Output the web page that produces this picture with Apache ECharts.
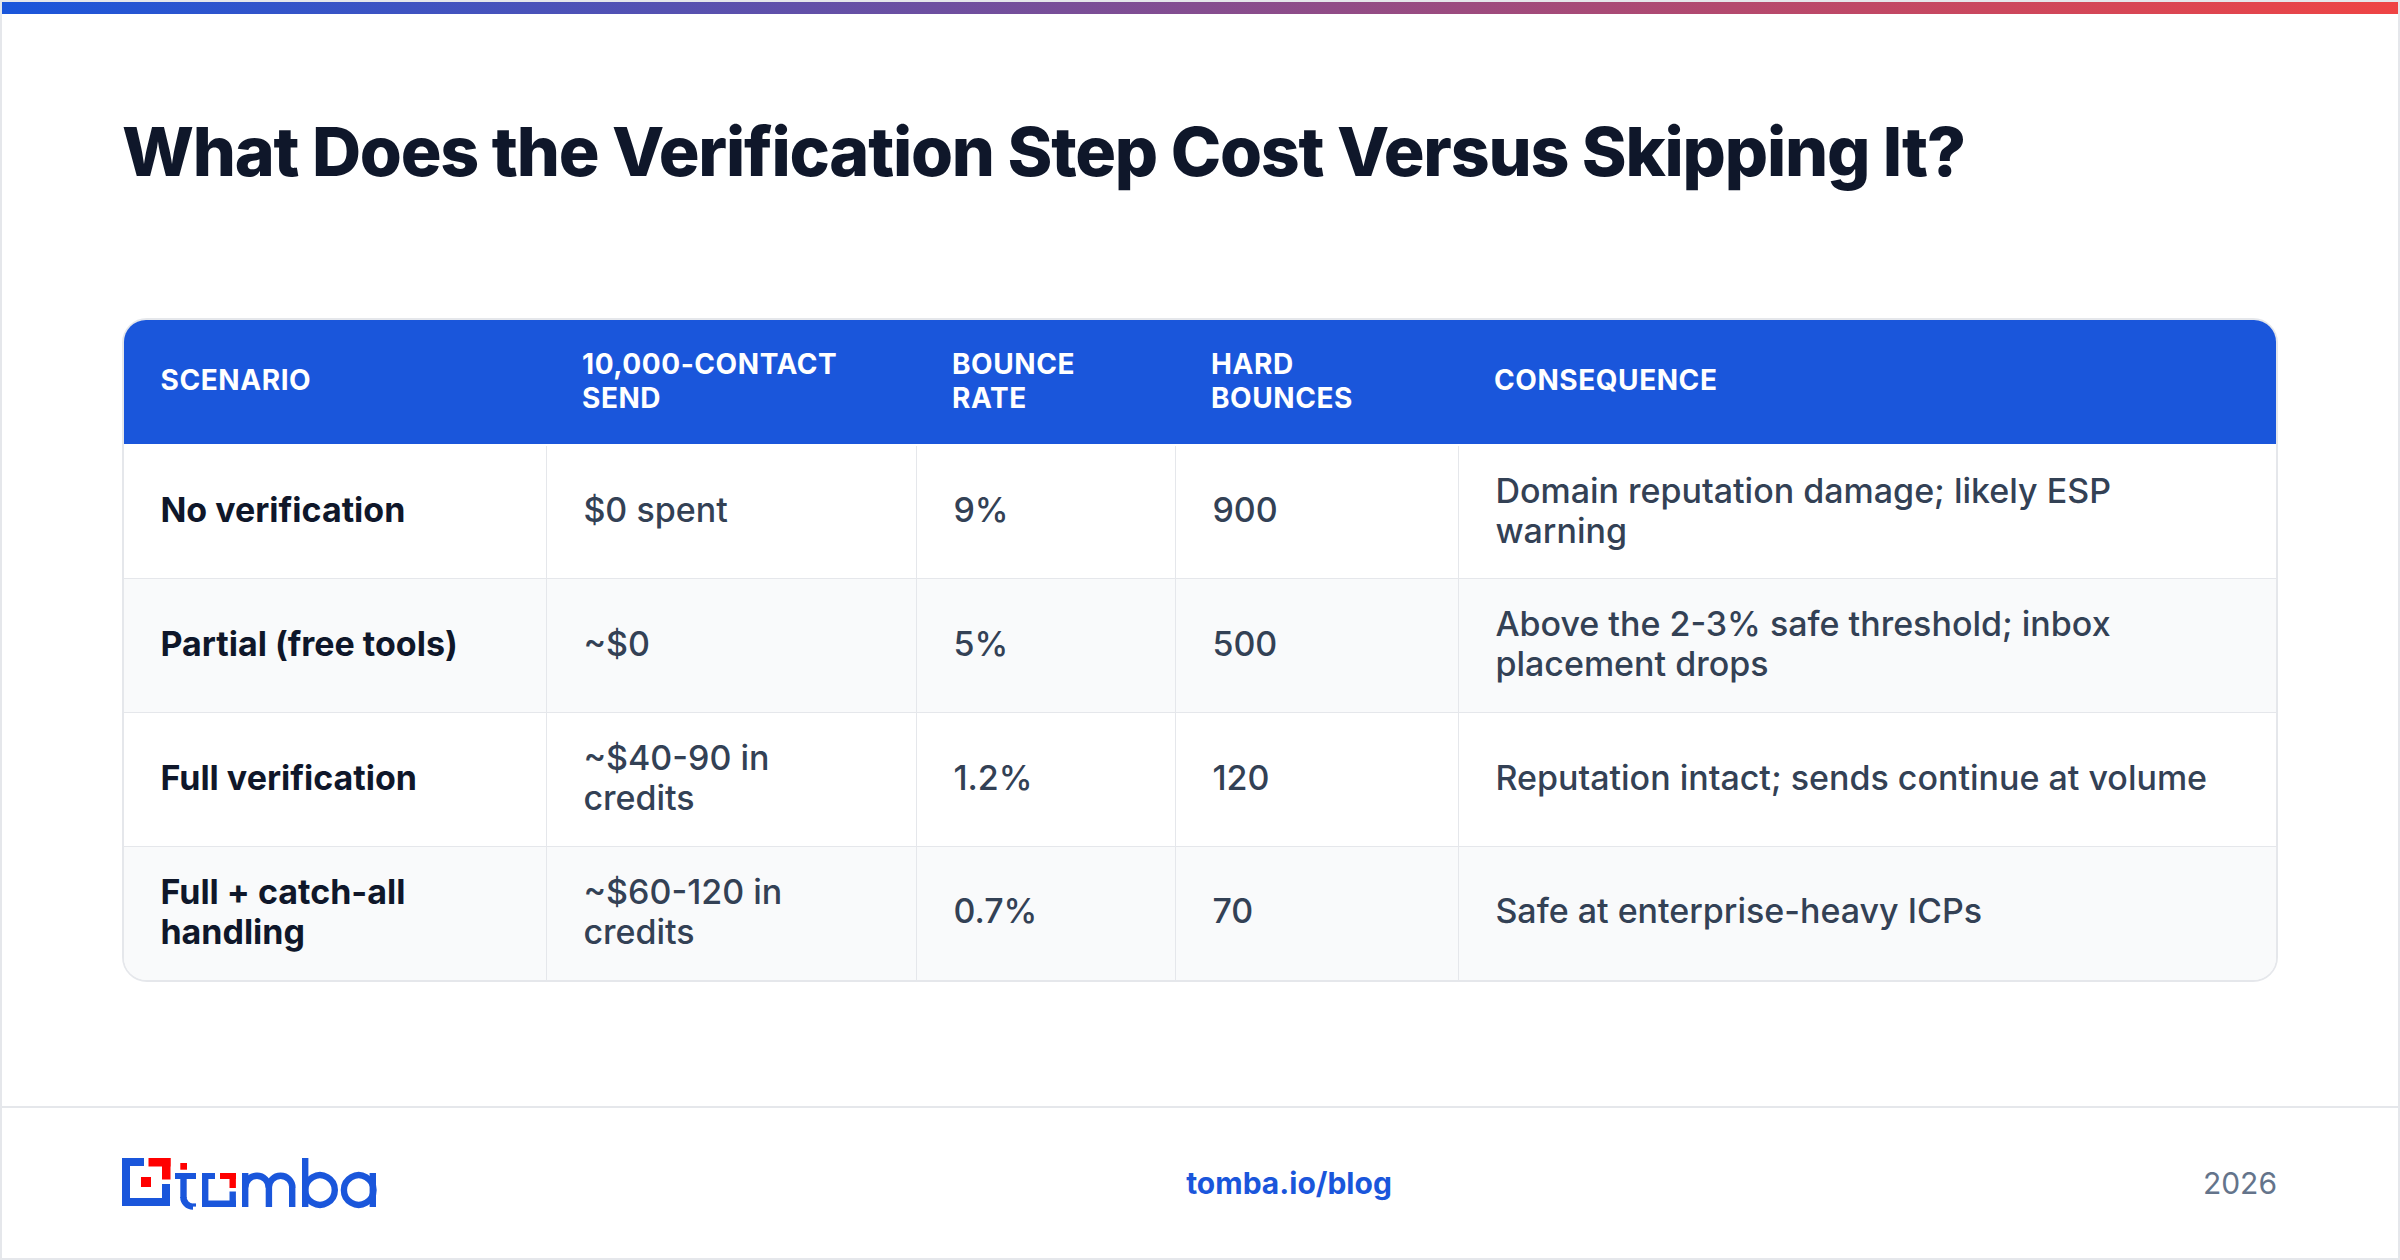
<!DOCTYPE html>
<html><head><meta charset="utf-8">
<style>
html,body{margin:0;padding:0;background:#fff}
#c{width:2400px;height:1260px}
text[style*="68px"]{letter-spacing:-1.22px}
text[style*="28px"]{letter-spacing:0.56px}
</style>
<script src="https://cdn.jsdelivr.net/npm/echarts@6/dist/echarts.min.js"></script>
</head><body><div id="c"></div>
<script>
const titleText = "What Does the Verification Step Cost Versus Skipping It?";
const headers = ["SCENARIO","10,000-CONTACT\nSEND","BOUNCE\nRATE","HARD\nBOUNCES","CONSEQUENCE"];
const scenarios = ["No verification","Partial (free tools)","Full verification","Full + catch-all\nhandling"];
const sendCosts = ["$0 spent","~$0","~$40-90 in\ncredits","~$60-120 in\ncredits"];
const bounceRates = ["9%","5%","1.2%","0.7%"];
const hardBounces = ["900","500","120","70"];
const consequences = [
  "Domain reputation damage; likely ESP\nwarning",
  "Above the 2-3% safe threshold; inbox\nplacement drops",
  "Reputation intact; sends continue at volume",
  "Safe at enterprise-heavy ICPs"
];
const footerLink = "tomba.io/blog";
const footerYear = "2026";

const columns = [scenarios, sendCosts, bounceRates, hardBounces, consequences];
const colEdges = [124,547,917,1176,1459,2276];
const rowEdges = [446,579,713,847,980];
const FONT = 'Inter';
const BORDER = '#e5e7eb', BLUE = '#1a56db';

const cells = [];
headers.forEach((_, c) => cells.push([c, -1]));
columns.forEach((col, c) => col.forEach((_, r) => cells.push([c, r])));

function renderCell(params, api) {
  const c = api.value(0), r = api.value(1);
  const last = colEdges.length - 2;
  const tl = api.coord([colEdges[c], r < 0 ? 320 : rowEdges[r]]);
  const br = api.coord([colEdges[c+1], r < 0 ? 444 : rowEdges[r+1]]);
  const w = br[0]-tl[0], h = br[1]-tl[1];
  const kids = [];
  if (r < 0) {
    kids.push({type:'rect', shape:{x:tl[0],y:tl[1],width:w,height:h,r:[c===0?22:0,c===last?22:0,0,0]}, style:{fill:BLUE}});
    kids.push({type:'text', x:tl[0]+(c===0?36.6:35), y:tl[1]+h/2-(headers[c].includes('\n')?1:2), style:{
      text:headers[c], fill:'#ffffff', fontFamily:FONT, fontWeight:700, fontSize:28, lineHeight:33.6,
      align:'left', verticalAlign:'middle'}});
  } else {
    const alt = r % 2 === 1, lastRow = r === rowEdges.length-2;
    const twoLines = columns[c][r].includes('\n');
    kids.push({type:'rect', shape:{x:tl[0],y:tl[1],width:w,height:h,r:[0,0,lastRow&&c===last?22:0,lastRow&&c===0?22:0]}, style:{fill:alt?'#f9fafb':'#ffffff'}});
    if (!lastRow) kids.push({type:'rect', shape:{x:tl[0],y:br[1]-1,width:w,height:2}, style:{fill:BORDER}});
    if (c !== last) kids.push({type:'rect', shape:{x:br[0]-1,y:tl[1],width:2,height:h}, style:{fill:BORDER}});
    kids.push({type:'text', x:tl[0]+(c===0?36.4:36.4), y:tl[1]+h/2-(twoLines?2.2:3), style:{
      text:columns[c][r], fill:c===0?'#0f172a':'#334155', fontFamily:FONT, fontWeight:c===0?700:500, fontSize:34, lineHeight:40,
      align:'left', verticalAlign:'middle'}});
  }
  return {type:'group', children:kids};
}

const rect = (x,y,w,h,fill,extra) => Object.assign({type:'rect',shape:{x,y,width:w,height:h},style:{fill},z:0,silent:true},extra||{});
const sw = 6.4;
const logo = [
  rect(122,1158,8,48,BLUE), rect(122,1158,22,8,BLUE), rect(122,1198,48,8,BLUE), rect(162,1184,8,22,BLUE),
  rect(148.5,1158,22,8.5,'#ff0000'), rect(162,1158,8.5,21.5,'#ff0000'), rect(141,1177,10,10,'#ff0000'),
  rect(180.3,1163,6.7,6.7,'#ff0000'), rect(175,1173,21,6,BLUE), rect(180.3,1173,6.4,25,BLUE),
  {type:'arc',shape:{cx:193,cy:1197,r:9.6,startAngle:Math.PI/2,endAngle:Math.PI,clockwise:true},style:{stroke:BLUE,lineWidth:sw,fill:null},silent:true},
  rect(193,1203.4,3,3.2,BLUE),
  rect(202,1173,6.4,34,BLUE), rect(202,1173,13,6,BLUE), rect(202,1200.6,34,6.4,BLUE), rect(229.5,1191.5,6.4,15.5,BLUE),
  rect(220,1173,16,6,'#ff0000'), rect(229.5,1173,6.4,15,'#ff0000'),
  rect(242,1173,6.4,34,BLUE), rect(265.7,1187,6.4,20,BLUE), rect(289,1187,6.4,20,BLUE),
  {type:'arc',shape:{cx:257,cy:1187.5,r:11.8,startAngle:Math.PI,endAngle:2*Math.PI,clockwise:true},style:{stroke:BLUE,lineWidth:sw,fill:null},silent:true},
  {type:'arc',shape:{cx:280.6,cy:1187.5,r:11.8,startAngle:Math.PI,endAngle:2*Math.PI,clockwise:true},style:{stroke:BLUE,lineWidth:sw,fill:null},silent:true},
  rect(302,1158,6.4,49,BLUE),
  {type:'circle',shape:{cx:320,cy:1190,r:14.8},style:{stroke:BLUE,lineWidth:sw,fill:null},silent:true},
  rect(369.6,1173,6.4,34,BLUE),
  {type:'circle',shape:{cx:358.7,cy:1190,r:14.8},style:{stroke:BLUE,lineWidth:sw,fill:null},silent:true}
];

const chart = echarts.init(document.getElementById('c'), null, {renderer:'svg'});
chart.setOption({
  animation:false,
  backgroundColor:'#ffffff',
  title:{text:titleText,left:117,top:112,textStyle:{fontFamily:FONT,fontWeight:800,fontSize:68,color:'#0f172a'}},
  grid:{left:0,right:0,top:0,bottom:0},
  xAxis:{type:'value',min:0,max:2400,show:false},
  yAxis:{type:'value',min:0,max:1260,inverse:true,show:false},
  graphic:{elements:[
    {type:'rect',shape:{x:1,y:1,width:2398,height:1258},style:{fill:'#fff',stroke:BORDER,lineWidth:2},silent:true,z:-10},
    {type:'rect',shape:{x:2,y:2,width:2396,height:12},silent:true,z:0,style:{fill:new echarts.graphic.LinearGradient(0,0,1,0,[{offset:0,color:'#1a56db'},{offset:1,color:'#ef4444'}])}},
    {type:'rect',shape:{x:123,y:319,width:2154,height:662,r:24},style:{fill:'#fff',stroke:BORDER,lineWidth:2},silent:true,z:-5},
    rect(0,1106,2400,2,BORDER),
    ...logo,
    {type:'text',x:1289,y:1183,silent:true,style:{text:footerLink,fontFamily:FONT,fontWeight:700,fontSize:30,fill:BLUE,align:'center',verticalAlign:'middle'}},
    {type:'text',x:2277,y:1183,silent:true,style:{text:footerYear,fontFamily:FONT,fontWeight:400,fontSize:30,fill:'#64748b',align:'right',verticalAlign:'middle'}}
  ]},
  series:[{type:'custom',coordinateSystem:'cartesian2d',clip:false,silent:true,
    encode:{x:0,y:1},data:cells,renderItem:renderCell}]
});
</script></body></html>
